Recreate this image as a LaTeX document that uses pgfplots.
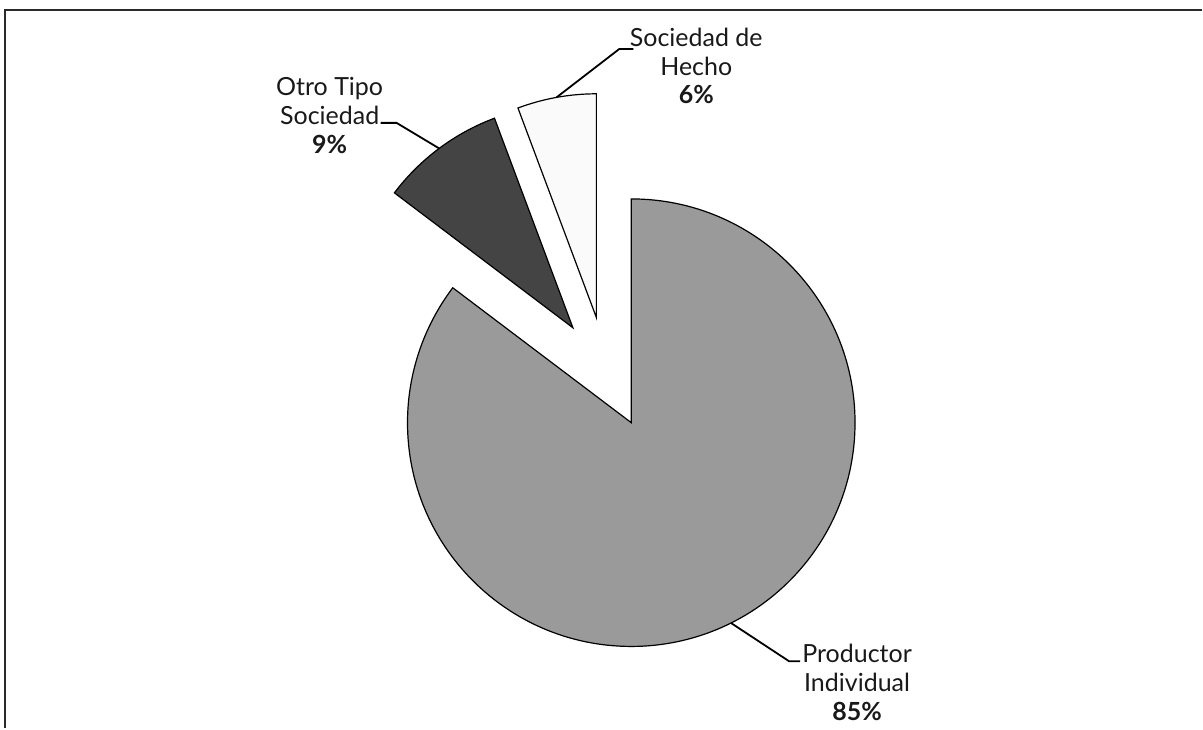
\documentclass[border=0pt]{standalone}
\usepackage{fontspec}
\setmainfont{Lato}
\usepackage{pgfplots}
\usepackage{pgfplotstable}
\pgfplotsset{compat=1.18}

\definecolor{frameline}{HTML}{2A2A2A}
\definecolor{sliceP}{HTML}{9A9A9A}
\definecolor{sliceO}{HTML}{444444}
\definecolor{sliceS}{HTML}{FAFAFA}

% share of each type (percent), in pie order, clockwise from the top
\pgfplotstableread{
share
85.3
9.0
5.7
}\piedata

\begin{document}
\begin{tikzpicture}
  \pgfplotstablegetelem{0}{share}\of\piedata \let\sP\pgfplotsretval
  \pgfplotstablegetelem{1}{share}\of\piedata \let\sO\pgfplotsretval
  \pgfplotstablegetelem{2}{share}\of\piedata \let\sS\pgfplotsretval
  % slice angles
  \pgfmathsetmacro{\aZ}{90}
  \pgfmathsetmacro{\aP}{\aZ-3.6*\sP}
  \pgfmathsetmacro{\aO}{\aP-3.6*\sO}
  \pgfmathsetmacro{\aS}{\aO-3.6*\sS}
  \pgfmathsetmacro{\mP}{(\aZ+\aP)/2}
  \pgfmathsetmacro{\mO}{(\aP+\aO)/2}
  \pgfmathsetmacro{\mS}{(\aO+\aS)/2}
  \pgfmathtruncatemacro{\lP}{round(\sP)}
  \pgfmathtruncatemacro{\lO}{round(\sO)}
  \pgfmathtruncatemacro{\lS}{round(\sS)}
  \def\cx{607}\def\cy{356}\def\ex{56}\def\R{112pt}\def\Rd{280}
  \begin{axis}[
    x=0.5pt, y=0.5pt,
    xmin=0, xmax=1203, ymin=0, ymax=729,
    hide axis, clip=false,
  ]
    \path (axis cs:0,0) rectangle (axis cs:1203,729);
    % frame (top and left only)
    \draw[frameline, line width=1.3pt] (axis cs:5,0) -- (axis cs:5,719) -- (axis cs:1203,719);

    % exploded slices
    \filldraw[fill=sliceP, draw=black, line width=0.6pt]
      (axis cs:{\cx+\ex*cos(\mP)},{\cy+\ex*sin(\mP)}) -- ++(\aZ:\R)
      arc[start angle=\aZ, end angle=\aP, radius=\R] -- cycle;
    \filldraw[fill=sliceO, draw=black, line width=0.6pt]
      (axis cs:{\cx+\ex*cos(\mO)},{\cy+\ex*sin(\mO)}) -- ++(\aP:\R)
      arc[start angle=\aP, end angle=\aO, radius=\R] -- cycle;
    \filldraw[fill=sliceS, draw=black, line width=0.6pt]
      (axis cs:{\cx+\ex*cos(\mS)},{\cy+\ex*sin(\mS)}) -- ++(\aO:\R)
      arc[start angle=\aO, end angle=\aS, radius=\R] -- cycle;

    % leader lines
    \draw[black, line width=0.9pt] (axis cs:{\cx+\Rd*cos(\mS)},{\cy+\Rd*sin(\mS)})
      -- (axis cs:620,680) -- (axis cs:634,680);
    \draw[black, line width=0.9pt] (axis cs:{\cx+\Rd*cos(\mO)},{\cy+\Rd*sin(\mO)})
      -- (axis cs:397,606) -- (axis cs:381,606);
    \draw[black, line width=0.9pt] (axis cs:{\cx+\Rd*cos(\mP)},{\cy+\Rd*sin(\mP)})
      -- (axis cs:790,67) -- (axis cs:801,67);

    % labels
    \begin{scope}[every node/.style={align=center, text=black!90,
        font=\fontsize{12.5}{14.5}\selectfont, inner sep=0pt}]
      \node at (axis cs:697,663) {Sociedad de\\Hecho\\\textbf{\lS\%}};
      \node at (axis cs:330,613) {Otro Tipo\\Sociedad\\\textbf{\lO\%}};
      \node at (axis cs:858,46) {Productor\\Individual\\\textbf{\lP\%}};
    \end{scope}
  \end{axis}
\end{tikzpicture}
\end{document}
